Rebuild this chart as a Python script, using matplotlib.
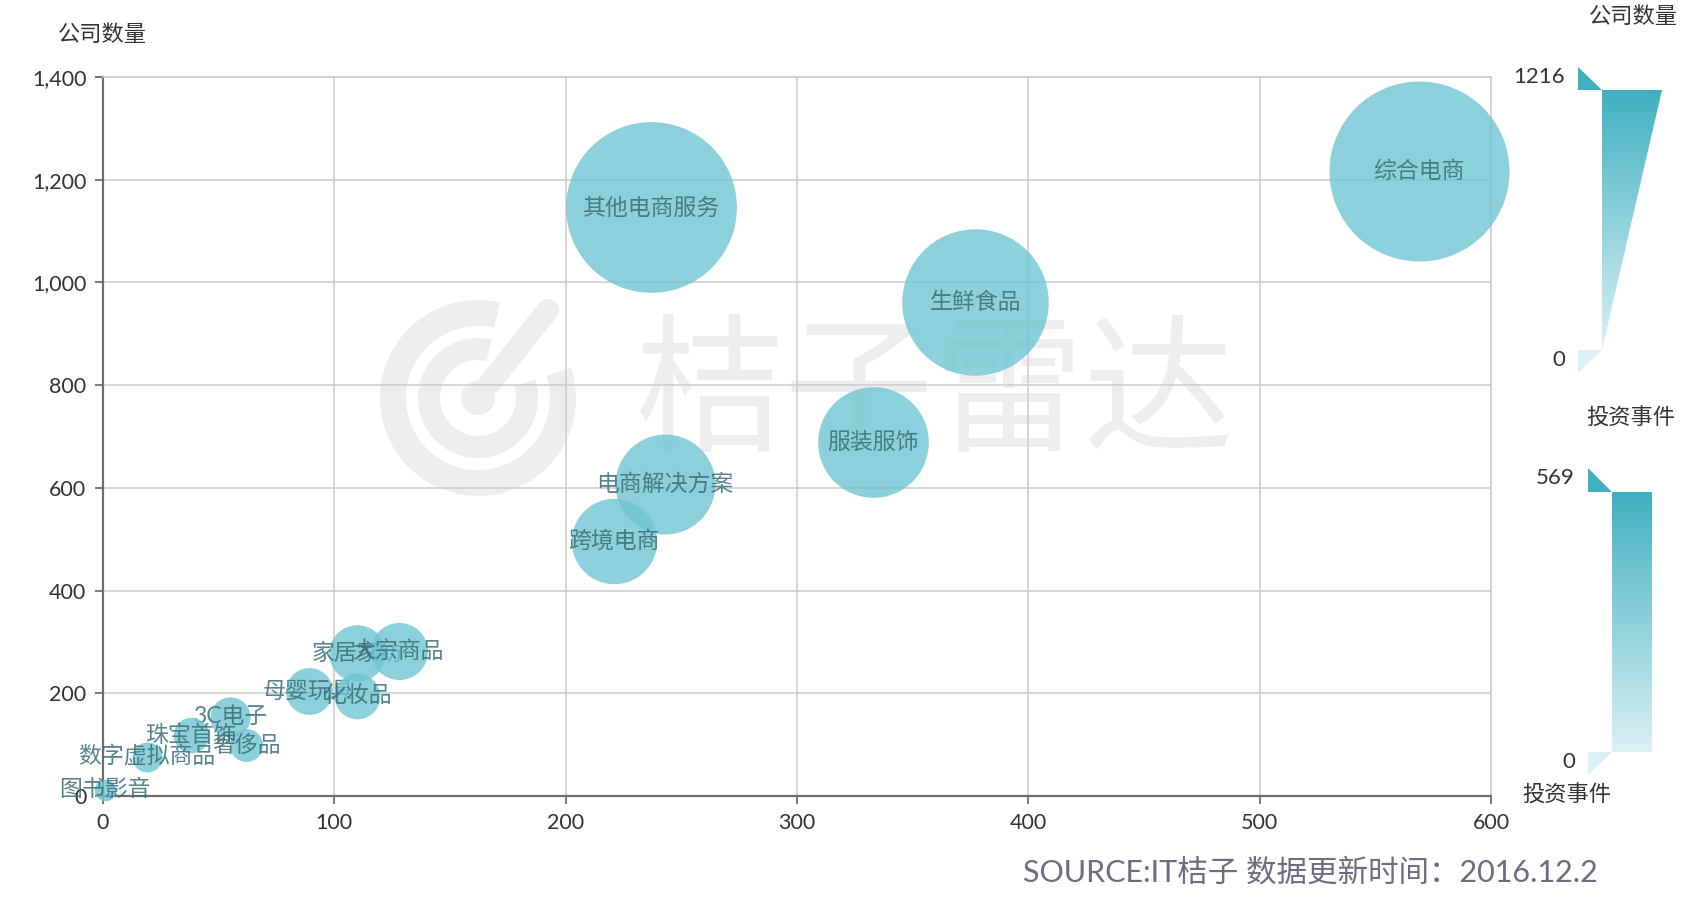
import matplotlib
matplotlib.use("Agg")
import matplotlib.pyplot as plt
import numpy as np
from matplotlib.patches import Polygon, Wedge, Circle
from matplotlib.ticker import FuncFormatter, MultipleLocator

plt.rcParams['font.family'] = ['Lato', 'Noto Sans CJK SC', 'DejaVu Sans']

# ---------------- data ----------------
names = ['综合电商', '其他电商服务', '生鲜食品', '服装服饰', '电商解决方案', '跨境电商',
         '家居家纺', '大宗商品', '母婴玩具', '化妆品', '3C电子', '奢侈品',
         '珠宝首饰', '数字虚拟商品', '图书影音']
invest_events = [569, 237, 377, 333, 243, 221, 110, 128, 89, 110, 55, 62, 38, 19, 1]
company_count = [1216, 1146, 961, 689, 607, 497, 278, 282, 204, 195, 154, 99, 118, 76, 12]

x_ticks = [0, 100, 200, 300, 400, 500, 600]
y_ticks = [0, 200, 400, 600, 800, 1000, 1200, 1400]
size_range = [0, 1216]      # visual map (公司数量)
event_range = [0, 569]      # visual map (投资事件)
symbol_px = [20, 180]       # bubble diameter range in pixels

W, H, DPI = 1700, 908, 100
fig = plt.figure(figsize=(W / DPI, H / DPI), dpi=DPI)
fig.patch.set_facecolor('white')

# ---------------- background / decoration axes (pixel coords) ----------------
bg = fig.add_axes([0, 0, 1, 1], zorder=-1)
bg.set_xlim(0, W)
bg.set_ylim(H, 0)
bg.axis('off')

wm = '#ededed'
# watermark logo
cx, cy = 478, 398
bg.add_patch(Wedge((cx, cy), 98, -18, 283, width=26, color=wm, lw=0))
bg.add_patch(Wedge((cx, cy), 60, -18, 283, width=22, color=wm, lw=0))
bg.add_patch(Circle((cx, cy), 17, color=wm, lw=0))
bg.plot([cx, cx + 70], [cy, cy - 88], color=wm, lw=16, solid_capstyle='round')
# watermark text
bg.text(935, 397, '桔子雷达', fontsize=108, color=wm, ha='center', va='center',
        family=['Noto Sans CJK SC'])

dark = np.array([0x40, 0xb0, 0xc1]) / 255
light = np.array([0xdc, 0xf1, 0xf5]) / 255
grad = np.linspace(0, 1, 256)[:, None, None]
grad_img = dark[None, None, :] * (1 - grad) + light[None, None, :] * grad


def gradient_shape(pts, x0, x1, y0, y1):
    poly = Polygon(pts, closed=True, facecolor='none', edgecolor='none')
    bg.add_patch(poly)
    im = bg.imshow(grad_img, extent=[x0, x1, y1, y0], aspect='auto', zorder=1)
    im.set_clip_path(poly)


# visual map 1 (公司数量, size)
gradient_shape([(1602, 90), (1662, 90), (1602, 350)], 1602, 1662, 90, 350)
bg.add_patch(Polygon([(1578, 67), (1578, 90), (1602, 90)], color=dark, lw=0))
bg.add_patch(Polygon([(1578, 350), (1602, 350), (1578, 373)], color=light, lw=0))
bg.text(1565, 77, str(size_range[1]), fontsize=16, color='#333333', ha='right', va='center')
bg.text(1565, 360, str(size_range[0]), fontsize=16, color='#333333', ha='right', va='center')
bg.text(1633, 17, '公司数量', fontsize=16, color='#333333', ha='center', va='center')

# visual map 2 (投资事件, colour)
gradient_shape([(1612, 492), (1652, 492), (1652, 752), (1612, 752)], 1612, 1652, 492, 752)
bg.add_patch(Polygon([(1588, 468), (1588, 492), (1612, 492)], color=dark, lw=0))
bg.add_patch(Polygon([(1588, 752), (1612, 752), (1588, 775)], color=light, lw=0))
bg.text(1575, 478, str(event_range[1]), fontsize=16, color='#333333', ha='right', va='center')
bg.text(1575, 762, str(event_range[0]), fontsize=16, color='#333333', ha='right', va='center')
bg.text(1631, 418, '投资事件', fontsize=16, color='#333333', ha='center', va='center')
bg.text(1567, 795, '投资事件', fontsize=16, color='#333333', ha='center', va='center')

# ---------------- main axes ----------------
ax = fig.add_axes([103 / W, 1 - 796 / H, (1491 - 103) / W, (796 - 77) / H], zorder=1)
ax.set_facecolor('none')
ax.set_xlim(x_ticks[0], x_ticks[-1])
ax.set_ylim(y_ticks[0], y_ticks[-1])
ax.set_xticks(x_ticks)
ax.set_yticks(y_ticks)
ax.yaxis.set_major_formatter(FuncFormatter(lambda v, p: f'{int(v):,}'))
ax.grid(True, color='#cccccc', lw=1.1, zorder=0)
ax.set_axisbelow(True)
for s in ['top', 'right']:
    ax.spines[s].set_color('#cccccc')
    ax.spines[s].set_linewidth(1.1)
for s in ['left', 'bottom']:
    ax.spines[s].set_color('#6e6e6e')
    ax.spines[s].set_linewidth(1.6)
ax.tick_params(axis='both', colors='#6e6e6e', length=6, width=1.3, labelsize=15.5,
               labelcolor='#333333', pad=6)

bubble_color = '#70c5d2'
for i, (n, xv, yv) in enumerate(zip(names, invest_events, company_count)):
    d_px = symbol_px[0] + (symbol_px[1] - symbol_px[0]) * (yv - size_range[0]) / (size_range[1] - size_range[0])
    s = (d_px * 72 / DPI) ** 2
    ax.scatter([xv], [yv], s=s, color=bubble_color, alpha=0.8, lw=0, zorder=3 + 2 * i, clip_on=False)
    ax.text(xv, yv, n, fontsize=16.5, color='#3a6d77', alpha=0.85, ha='center', va='center',
            zorder=4 + 2 * i, clip_on=False)

fig.text(102 / W, 1 - 35 / H, '公司数量', fontsize=16, color='#333333', ha='center', va='center')
fig.text(1598 / W, 1 - 872 / H, 'SOURCE:IT桔子 数据更新时间：2016.12.2', fontsize=22,
         color='#6b6d80', ha='right', va='center')

fig.savefig('out.png', dpi=DPI)
